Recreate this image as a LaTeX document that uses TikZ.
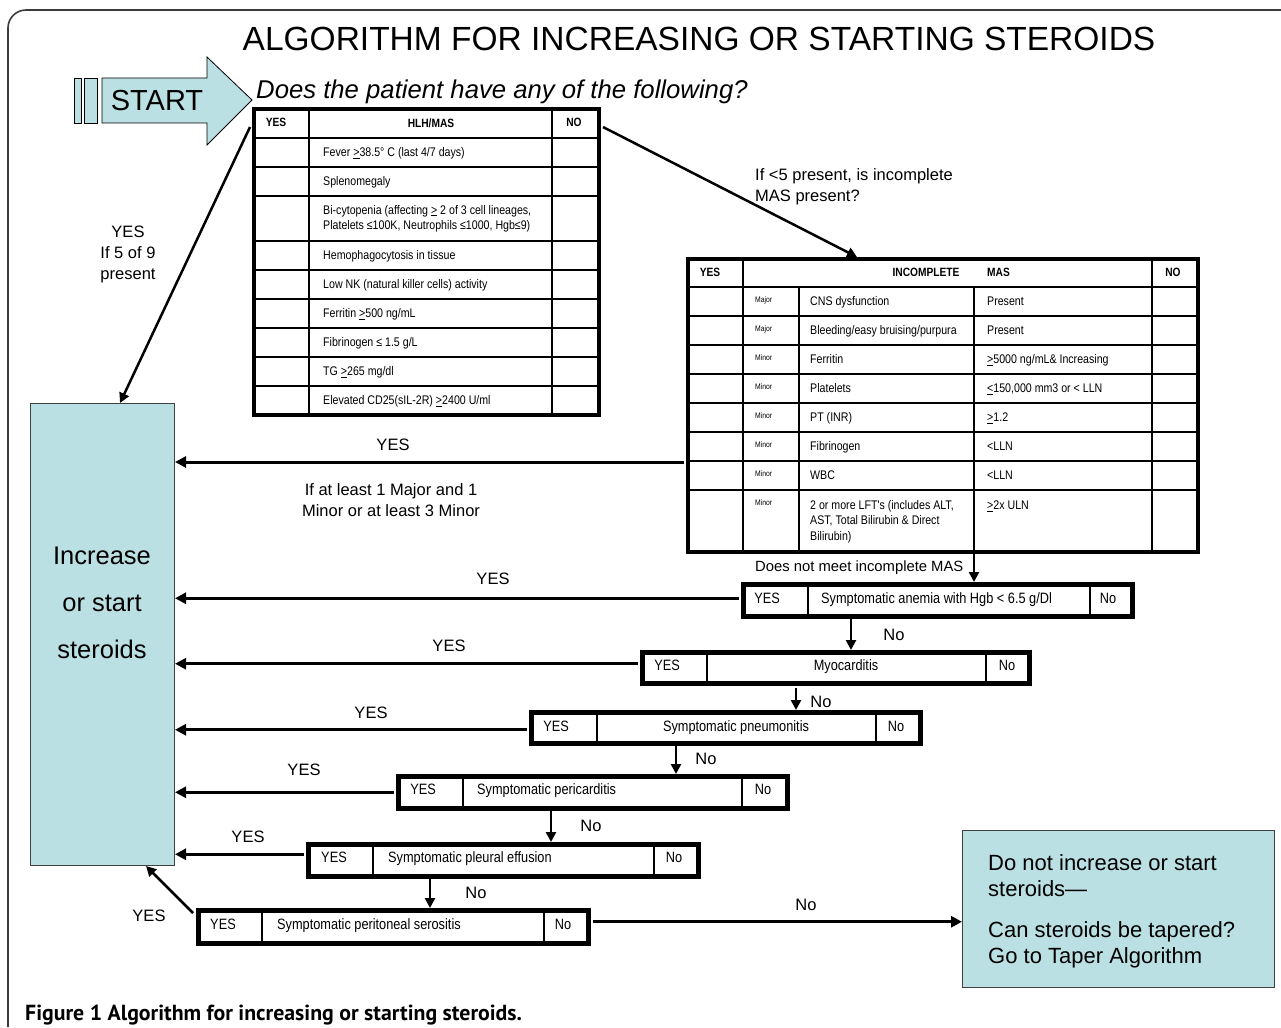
\documentclass[tikz,border=0pt]{standalone}
\usepackage{fontspec}
\setmainfont{Liberation Sans}
\newfontfamily\nar[FakeStretch=0.85]{Liberation Sans}
\newfontfamily\capf{PT Sans}
\usetikzlibrary{arrows.meta,calc}
\definecolor{lb}{RGB}{187,224,227}
\definecolor{fr}{RGB}{60,60,60}
\begin{document}
\begin{tikzpicture}[x=1pt,y=-1pt,
 tbl/.style={draw=black,line width=4pt,fill=white,anchor=north west,inner sep=0pt},
 sbox/.style={draw=black,line width=4.5pt,fill=white,anchor=north west,inner sep=0pt},
 inr/.style={line width=1.3pt},
 bluebox/.style={draw=black!75,line width=1pt,fill=lb,anchor=north west,inner sep=0pt},
 arr/.style={line width=2.5pt,-{Triangle[length=10pt,width=10pt]}},
 yarr/.style={line width=3pt,-{Triangle[length=11pt,width=11pt]}},
 lbl/.style={font=\fontsize{16.5}{19}\selectfont,inner sep=0pt,anchor=base},
 tt/.style={font=\nar\fontsize{12.5}{15.5}\selectfont,inner sep=0pt,anchor=mid west,yshift=-2pt},
 ttm/.style={font=\nar\fontsize{12.5}{15.5}\selectfont,inner sep=0pt,anchor=north west,align=left},
 th/.style={font=\nar\bfseries\fontsize{12}{14}\selectfont,inner sep=0pt,anchor=mid,yshift=-2pt},
 tiny/.style={font=\nar\fontsize{8}{9}\selectfont,inner sep=0pt,anchor=mid west,yshift=-2pt},
 st/.style={font=\nar\fontsize{15}{17}\selectfont,inner sep=0pt,anchor=mid,yshift=-3pt},
 stw/.style={st,anchor=mid west},
 big/.style={font=\fontsize{22}{26}\selectfont,inner sep=0pt,anchor=base west},
]
\useasboundingbox (0,0) rectangle (1281,1027);
\fill[white] (0,0) rectangle (1281,1027);
% frame
\draw[fr,line width=1.6pt,rounded corners=18pt] (8,1027) -- (8,10) -- (1281,10);

% title
\node[font=\fontsize{33.5}{38}\selectfont,inner sep=0pt,anchor=base] (title) at (699,51) {ALGORITHM FOR INCREASING OR STARTING STEROIDS};

% start arrow
\draw[fill=lb,line width=0.8pt] (74,78) rectangle (81,123);
\draw[fill=lb,line width=0.8pt] (84,78) rectangle (97,123);
\draw[fill=lb,line width=0.8pt] (102,78) -- (207,78) -- (207,57) -- (252,100) -- (207,145) -- (207,123) -- (102,123) -- cycle;
\node[font=\fontsize{29}{32}\selectfont,inner sep=0pt,anchor=base] (start) at (157,111) {START};
\node[font=\itshape\fontsize{25.7}{30}\selectfont,inner sep=0pt,anchor=base west] (question) at (256,99) {Does the patient have any of the following?};

% HLH table
\node[tbl,minimum width=345pt,minimum height=306pt] (hlh) at (252,107) {};
\draw[inr] (309,107) -- (309,413) (552,107) -- (552,413);
\foreach \yy in {138,167,196,241,270,299,328,357,386} \draw[inr] (252,\yy) -- (597,\yy);
\node[th] (hy) at (276,122) {YES};
\node[th] (hh) at (431,123) {HLH/MAS};
\node[th] (hn) at (574,122) {NO};
\node[tt] (h1) at (323,152) {Fever \underline{>}38.5° C (last 4/7 days)};
\node[tt] (h2) at (323,181) {Splenomegaly};
\node[ttm] (h3) at (323,205) {Bi-cytopenia (affecting \underline{>} 2 of 3 cell lineages,\\Platelets ≤100K, Neutrophils ≤1000, Hgb≤9)};
\node[tt] (h4) at (323,255) {Hemophagocytosis in tissue};
\node[tt] (h5) at (323,284) {Low NK (natural killer cells) activity};
\node[tt] (h6) at (323,313) {Ferritin \underline{>}500 ng/mL};
\node[tt] (h7) at (323,342) {Fibrinogen ≤ 1.5 g/L};
\node[tt] (h8) at (323,371) {TG \underline{>}265 mg/dl};
\node[tt] (h9) at (323,400) {Elevated CD25(sIL-2R) \underline{>}2400 U/ml};

% Incomplete MAS table
\node[tbl,minimum width=510pt,minimum height=293pt] (imas) at (686,257) {};
\draw[inr] (743,257) -- (743,550) (1152,257) -- (1152,550) (799,287) -- (799,550) (974,287) -- (974,550);
\foreach \yy in {287,316,345,374,403,432,461,490} \draw[inr] (686,\yy) -- (1196,\yy);
\node[th] (iy) at (710,272) {YES};
\node[th] (ih) at (926,272) {INCOMPLETE};
\node[th,anchor=mid west] (ih2) at (987,272) {MAS};
\node[th] (in) at (1173,272) {NO};
\node[tiny] (m1) at (755,298) {Major};
\node[tiny] (m2) at (755,327) {Major};
\node[tiny] (m3) at (755,356) {Minor};
\node[tiny] (m4) at (755,385) {Minor};
\node[tiny] (m5) at (755,414) {Minor};
\node[tiny] (m6) at (755,443) {Minor};
\node[tiny] (m7) at (755,472) {Minor};
\node[tiny] (m8) at (755,501) {Minor};
\node[tt] (n1) at (810,301) {CNS dysfunction};
\node[tt] (n2) at (810,330) {Bleeding/easy bruising/purpura};
\node[tt] (n3) at (810,359) {Ferritin};
\node[tt] (n4) at (810,388) {Platelets};
\node[tt] (n5) at (810,417) {PT (INR)};
\node[tt] (n6) at (810,446) {Fibrinogen};
\node[tt] (n7) at (810,475) {WBC};
\node[ttm] (n8) at (810,500) {2 or more LFT's (includes ALT,\\AST, Total Bilirubin \& Direct\\Bilirubin)};
\node[tt] (v1) at (987,301) {Present};
\node[tt] (v2) at (987,330) {Present};
\node[tt] (v3) at (987,359) {\underline{>}5000 ng/mL\& Increasing};
\node[tt] (v4) at (987,388) {\underline{<}150,000 mm3 or < LLN};
\node[tt] (v5) at (987,417) {\underline{>}1.2};
\node[tt] (v6) at (987,446) {<LLN};
\node[tt] (v7) at (987,475) {<LLN};
\node[tt] (v8) at (987,505) {\underline{>}2x ULN};

% increase box
\node[bluebox,minimum width=144pt,minimum height=462pt] (incr) at (30,403) {};
\node[font=\fontsize{25.5}{47}\selectfont,inner sep=0pt,align=center,anchor=base] (incrtxt) at (102,658) {Increase\\or start\\steroids};

% right box
\node[bluebox,minimum width=312pt,minimum height=157pt] (donot) at (962,830) {};
\node[big] (d1) at (988,870) {Do not increase or start};
\node[big] (d2) at (988,896) {steroids—};
\node[big] (d3) at (988,937) {Can steroids be tapered?};
\node[big] (d4) at (988,963) {Go to Taper Algorithm};

% symptom boxes
\node[sbox,minimum width=389pt,minimum height=32pt] (anemia) at (741,582) {};
\draw[inr] (808,582) -- (808,614) (1090,582) -- (1090,614);
\node[st] (ay) at (767,598) {YES};
\node[stw] (at) at (821,598) {Symptomatic anemia with Hgb < 6.5 g/Dl};
\node[st] (an) at (1108,598) {No};

\node[sbox,minimum width=387pt,minimum height=31pt] (myo) at (640,650) {};
\draw[inr] (707,650) -- (707,681) (986,650) -- (986,681);
\node[st] (my) at (667,665) {YES};
\node[st] (mt) at (846,665) {Myocarditis};
\node[st] (mn) at (1007,665) {No};

\node[sbox,minimum width=389pt,minimum height=31pt] (pneu) at (529,710) {};
\draw[inr] (597,710) -- (597,741) (876,710) -- (876,741);
\node[st] (py) at (556,726) {YES};
\node[st] (pt) at (736,726) {Symptomatic pneumonitis};
\node[st] (pn) at (896,726) {No};

\node[sbox,minimum width=389pt,minimum height=32pt] (peri) at (396,774) {};
\draw[inr] (463,774) -- (463,806) (742,774) -- (742,806);
\node[st] (ry) at (423,789) {YES};
\node[stw] (rt) at (477,789) {Symptomatic pericarditis};
\node[st] (rn) at (763,789) {No};

\node[sbox,minimum width=390pt,minimum height=32pt] (pleu) at (306,842) {};
\draw[inr] (373,842) -- (373,874) (654,842) -- (654,874);
\node[st] (ly) at (334,857) {YES};
\node[stw] (lt) at (388,857) {Symptomatic pleural effusion};
\node[st] (ln) at (674,857) {No};

\node[sbox,minimum width=390pt,minimum height=33pt] (perit) at (196,908) {};
\draw[inr] (262,908) -- (262,941) (544,908) -- (544,941);
\node[st] (ty) at (223,924) {YES};
\node[stw] (tt2) at (277,924) {Symptomatic peritoneal serositis};
\node[st] (tn) at (563,924) {No};

% connectors from HLH
\draw[arr] ($(hlh.north west)+(-2,20)$) -- ($(incr.north west)+(90,0)$);
\draw[arr] ($(hlh.north east)+(2,20)$) -- ($(imas.north west)+(171,0)$);
\node[lbl] (l5a) at (128,237) {YES};
\node[lbl] (l5b) at (128,258) {If 5 of 9};
\node[lbl] (l5c) at (128,279) {present};
\node[lbl,anchor=base west] (lq1) at (755,181) {If <5 present, is incomplete};
\node[lbl,anchor=base west] (lq2) at (755,201) {MAS present?};

% incomplete MAS yes
\coordinate (yi) at ($(imas.south west)+(-2,-92)$);
\draw[yarr] (yi) -- (yi -| incr.east);
\node[lbl] (li1) at (393,450) {YES};
\node[lbl] (li2) at (391,495) {If at least 1 Major and 1};
\node[lbl] (li3) at (391,516) {Minor or at least 3 Minor};

% down arrows
\coordinate (xf) at (974,0);
\coordinate (xa) at (851,0);
\coordinate (xb) at (796,0);
\coordinate (xc) at (676,0);
\coordinate (xd) at (551,0);
\coordinate (xe) at (430,0);
\draw[arr] (imas.south -| xf) -- (anemia.north -| xf);
\node[font=\fontsize{14.8}{17}\selectfont,inner sep=0pt,anchor=base west] (dnm) at (755,571) {Does not meet incomplete MAS};
\draw[arr] (anemia.south -| xa) -- (myo.north -| xa);
\draw[arr] ($(myo.south -| xb)+(0,2)$) -- (pneu.north -| xb);
\draw[arr] (pneu.south -| xc) -- (peri.north -| xc);
\draw[arr] (peri.south -| xd) -- (pleu.north -| xd);
\draw[arr] (pleu.south -| xe) -- (perit.north -| xe);
\node[lbl] (no1) at (894,640) {No};
\node[lbl] (no2) at (821,707) {No};
\node[lbl] (no3) at (706,764) {No};
\node[lbl] (no4) at (591,831) {No};
\node[lbl] (no5) at (476,898) {No};

% yes arrows
\coordinate (ya) at ($(anemia.west)+(-2,-2)$);
\draw[yarr] (ya) -- (ya -| incr.east);
\coordinate (yb) at ($(myo.west)+(-2,-4)$);
\draw[yarr] (yb) -- (yb -| incr.east);
\coordinate (yc) at ($(pneu.west)+(-2,2)$);
\draw[yarr] (yc) -- (yc -| incr.east);
\coordinate (yd) at ($(peri.west)+(-2,0)$);
\draw[yarr] (yd) -- (yd -| incr.east);
\coordinate (ye) at ($(pleu.west)+(-2,-6)$);
\draw[yarr] (ye) -- (ye -| incr.east);
\draw[arr] ($(perit.north west)+(-3,5)$) -- ($(incr.south east)+(-29,0)$);
\node[lbl] (ys1) at (493,584) {YES};
\node[lbl] (ys2) at (449,651) {YES};
\node[lbl] (ys3) at (371,718) {YES};
\node[lbl] (ys4) at (304,775) {YES};
\node[lbl] (ys5) at (248,842) {YES};
\node[lbl] (ys6) at (149,921) {YES};

% no to right box
\coordinate (yn) at ($(perit.east)+(2,-5)$);
\draw[yarr] (yn) -- (yn -| donot.west);
\node[lbl] (no6) at (806,910) {No};

% caption
\node[font=\capf\bfseries\fontsize{21.8}{26}\selectfont,inner sep=0pt,anchor=base west] (cap) at (25,1020) {Figure 1 Algorithm for increasing or starting steroids.};
\end{tikzpicture}
\end{document}
